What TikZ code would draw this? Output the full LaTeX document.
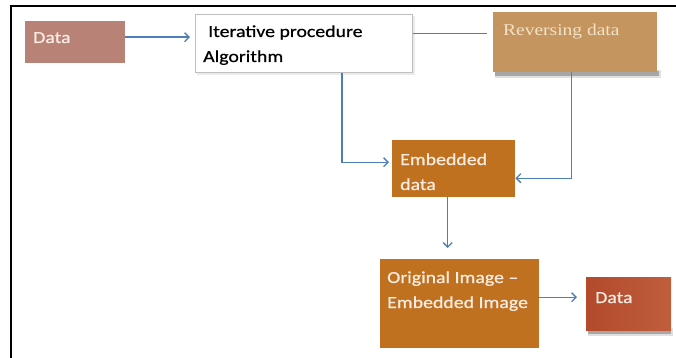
\documentclass[tikz,border=0pt]{standalone}
\usepackage{fontspec}
\setmainfont{Carlito}[FakeBold=0.6]
\newfontfamily\romanface{Liberation Serif}
\usepackage{graphicx}
\usetikzlibrary{arrows.meta}

\definecolor{flowblue}{HTML}{4F7DB8}
\definecolor{rosebox}{HTML}{B98277}
\definecolor{tanbox}{HTML}{C4955F}
\definecolor{orangebox}{HTML}{C0711F}
\definecolor{redleft}{HTML}{B24A2B}
\definecolor{redright}{HTML}{BF5E3D}
\definecolor{paletext}{HTML}{FBEDE3}
\definecolor{creamtext}{HTML}{F3E2C8}

% slightly widened lettering
\newcommand{\wline}[1]{\scalebox{1.18}[1]{#1}}

\tikzset{
  box/.style={rectangle, inner sep=0pt, anchor=north west},
  % base anchor of a multi-line label sits on its last line
  boxtext/.style={inner sep=0pt, anchor=base west, align=left,
    font=\fontsize{16.8}{25}\selectfont},
  flow/.style={draw=flowblue, line width=1.4pt},
  tip/.style={-{Straight Barb[length=4.5pt,width=9pt,line width=1.3pt]}},
  dropshadow/.style={fill=black, opacity=#1},
}

\begin{document}
\begin{tikzpicture}[x=1pt,y=-1pt]
\useasboundingbox (0,0) rectangle (676,358);
\fill[white] (0,0) rectangle (676,358);

% frame edges
\draw[line width=2.5pt] (10,6) -- (676,6);
\draw[line width=2.5pt] (11,5) -- (11,358);

% soft shadows under some boxes
\fill[dropshadow=0.08] (197,16) rectangle (415,75);
\fill[dropshadow=0.12] (495,70) rectangle (661,78);
\fill[dropshadow=0.25] (495,71) rectangle (659,76);
\fill[dropshadow=0.12] (588,328) rectangle (673,336);
\fill[dropshadow=0.25] (588,329) rectangle (671,334);

% boxes
\node[box, fill=rosebox, minimum width=100pt, minimum height=42pt] (data) at (25,21) {};
\node[box, fill=white, draw=black!25, line width=0.6pt, minimum width=217pt, minimum height=58pt] (iter) at (195,14) {};
\node[box, fill=tanbox, minimum width=164pt, minimum height=60pt] (rev) at (493,12) {};
\node[box, fill=orangebox, minimum width=123pt, minimum height=57pt] (emb) at (392,140) {};
\node[box, fill=orangebox, minimum width=159pt, minimum height=89pt] (orig) at (380,259) {};
\node[box, left color=redleft, right color=redright, minimum width=85pt, minimum height=53pt] (out) at (586,277) {};

% labels
\node[boxtext, text=paletext] (datatext) at (33,43) {\wline{Data}};
\node[boxtext, text=black] (itertext) at (203,62) {\hspace{5pt}\wline{Iterative procedure}\\\wline{Algorithm}};
\node[boxtext, text=creamtext, font=\romanface\fontsize{16.5}{25}\selectfont] (revtext) at (503,36) {\wline{Reversing data}};
\node[boxtext, text=paletext] (embtext) at (400,190) {\wline{Embedded}\\\wline{data}};
\node[boxtext, text=paletext] (origtext) at (387,308) {\wline{Original Image --}\\\wline{Embedded Image}};
\node[boxtext, text=paletext] (outtext) at (595,303) {\wline{Data}};

% connectors
\draw[flow, tip, shorten >=5pt] ([yshift=5pt]data.east) -- ([yshift=5pt]data.east -| iter.west);
\draw[flow, shorten >=6pt] ([yshift=10pt]iter.east) -- ([yshift=10pt]iter.east -| rev.west);
\draw[flow, tip, shorten >=3pt] ([xshift=38pt]iter.south) |- ([yshift=6.5pt]emb.west);
\draw[flow, tip] ([xshift=-4pt]rev.south) |- ([yshift=-9.5pt]emb.east);
\draw[flow, tip, shorten >=11pt] ([xshift=-6pt]emb.south) -- ([xshift=-6pt]emb.south |- orig.north);
\draw[flow, tip, shorten >=9pt] ([yshift=6.5pt]orig.east) -- ([yshift=6.5pt]orig.east -| out.west);
\end{tikzpicture}
\end{document}
